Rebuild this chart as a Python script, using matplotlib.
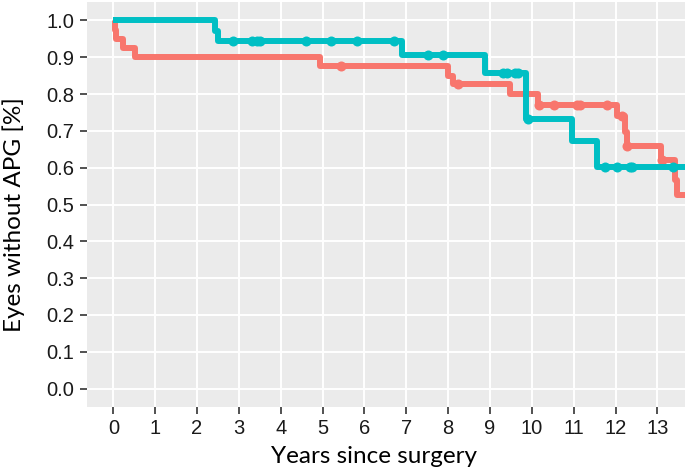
import numpy as np
import matplotlib
matplotlib.use('Agg')
import matplotlib.pyplot as plt

# step curves (time in years, proportion without APG)
cyan_t = [0, 2.44, 2.49, 6.89, 8.88, 9.86, 10.95, 11.55, 14.0]
cyan_s = [1.0, 0.972, 0.944, 0.906, 0.856, 0.732, 0.672, 0.602, 0.602]
cyan_cens = [2.86, 3.31, 3.43, 3.50, 4.60, 5.19, 5.82, 6.71, 7.51, 7.87,
             9.32, 9.40, 9.60, 9.67, 9.92, 11.75, 12.03, 12.35, 12.39, 13.37]

red_t = [0, 0.03, 0.06, 0.24, 0.52, 4.94, 8.0, 8.12, 9.48, 10.15, 12.03,
         12.23, 12.27, 13.08, 13.42, 13.47, 14.0]
red_s = [1.0, 0.975, 0.95, 0.925, 0.90, 0.876, 0.848, 0.826, 0.799, 0.771,
         0.74, 0.697, 0.66, 0.622, 0.567, 0.527, 0.527]
red_cens = [5.43, 8.24, 10.17, 10.52, 11.08, 11.15, 11.79, 12.15, 12.28, 13.1]

x_ticks = list(range(0, 14))
y_ticks = [0.0, 0.1, 0.2, 0.3, 0.4, 0.5, 0.6, 0.7, 0.8, 0.9, 1.0]

RED = '#F8766D'
CYAN = '#00BFC4'


def surv_at(t, s, x):
    idx = np.searchsorted(t, x, side='right') - 1
    return np.array(s)[idx]


fig = plt.figure(figsize=(6.85, 4.71), dpi=100)
ax = fig.add_axes([87/685, 64/471, 598/685, 405/471])
ax.set_facecolor('#EBEBEB')

for t, s, cens, col, z in [(red_t, red_s, red_cens, RED, 3), (cyan_t, cyan_s, cyan_cens, CYAN, 4)]:
    ax.step(t, s, where='post', color=col, lw=4.3, zorder=z, solid_capstyle='butt')
    ax.plot(cens, surv_at(t, s, cens), 'o', color=col, ms=7.2, mec='none', zorder=z)

ax.set_xlim(-0.63, 13.66)
ax.set_ylim(-0.05, 1.05)
ax.set_xticks(x_ticks)
ax.set_yticks(y_ticks)
ax.set_yticklabels([f'{v:.1f}' for v in y_ticks])
ax.grid(True, color='white', lw=1.4)
ax.set_axisbelow(True)
for sp in ax.spines.values():
    sp.set_visible(False)
ax.tick_params(length=5, width=1.2, color='#333333', labelsize=14.5, labelcolor='#1a1a1a', pad=4)
for lab in ax.get_xticklabels() + ax.get_yticklabels():
    lab.set_family('Liberation Sans')

ax.set_xlabel('Years since surgery', fontsize=17.5, family='Lato', va='center')
ax.set_ylabel('Eyes without APG [%]', fontsize=17.5, family='Lato', va='center')
ax.xaxis.set_label_coords(0.48, -0.123)
ax.yaxis.set_label_coords(-0.122, 0.475)

fig.savefig('out.png', dpi=100)
